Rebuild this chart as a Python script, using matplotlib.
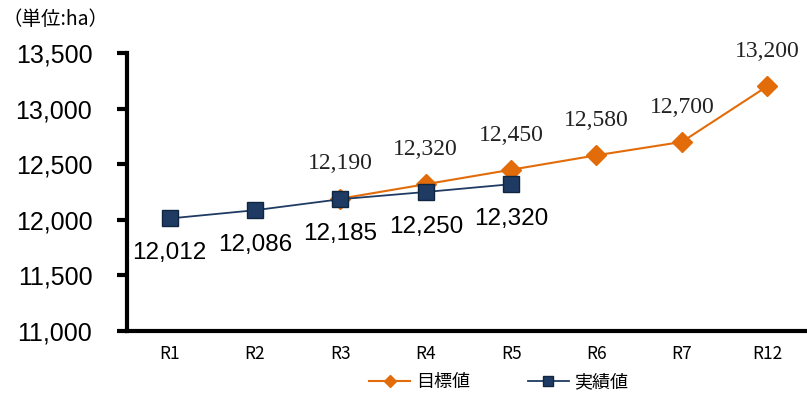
import matplotlib
matplotlib.use("Agg")
import matplotlib.pyplot as plt
from matplotlib.ticker import FuncFormatter

# 年度ごとの面積（単位: ha）
years = ["R1", "R2", "R3", "R4", "R5", "R6", "R7", "R12"]
target_years = ["R3", "R4", "R5", "R6", "R7", "R12"]
target_vals = [12190, 12320, 12450, 12580, 12700, 13200]
actual_years = ["R1", "R2", "R3", "R4", "R5"]
actual_vals = [12012, 12086, 12185, 12250, 12320]

orange = "#E36C0A"
navy = "#1F3B63"

fig = plt.figure(figsize=(8.07, 3.93), dpi=100)
ax = fig.add_axes([0.1574, 0.1578, 0.843, 0.7074])

tx = [years.index(y) for y in target_years]
axx = [years.index(y) for y in actual_years]

ax.plot(tx, target_vals, color=orange, lw=1.5, marker="D", ms=10.5,
        markeredgecolor=orange, label="目標値", zorder=3)
ax.plot(axx, actual_vals, color=navy, lw=1.3, marker="s", ms=12,
        markeredgecolor="#0F2540", label="実績値", zorder=4)

for x, v in zip(tx, target_vals):
    ax.annotate(f"{v:,}", (x, v), xytext=(0, 25), textcoords="offset points",
                ha="center", va="center", fontsize=17,
                family=["Liberation Serif", "DejaVu Serif"], color="#222222")
for x, v in zip(axx, actual_vals):
    ax.annotate(f"{v:,}", (x, v), xytext=(0, -25), textcoords="offset points",
                ha="center", va="center", fontsize=17.5,
                family=["Liberation Sans", "DejaVu Sans"], color="black")

ax.set_xlim(-0.5, 7.47)
ax.set_ylim(11000, 13500)
ax.set_yticks(range(11000, 13501, 500))
ax.yaxis.set_major_formatter(FuncFormatter(lambda v, p: f"{int(v):,}"))
ax.set_xticks(range(len(years)))
ax.set_xticklabels(years, family=["Noto Sans CJK JP"], fontsize=12.5)
for lab in ax.get_yticklabels():
    lab.set_family(["Liberation Sans", "DejaVu Sans"])
    lab.set_fontsize(18)

ax.spines["top"].set_visible(False)
ax.spines["right"].set_visible(False)
ax.spines["left"].set_linewidth(3)
ax.spines["bottom"].set_linewidth(3)
ax.tick_params(axis="y", length=7, width=3, pad=18)
ax.tick_params(axis="x", length=0, pad=10)

fig.text(0.003, 0.95, "（単位:ha）", fontsize=14,
         family=["Noto Sans CJK JP", "DejaVu Sans"], va="center")

fig.legend(loc="center", bbox_to_anchor=(0.618, 0.027), ncol=2, frameon=False,
           prop={"family": ["Noto Sans CJK JP", "DejaVu Sans"], "size": 13},
           handlelength=2.3, columnspacing=3.2, markerscale=0.55, handletextpad=0.3)

fig.savefig("out.png", dpi=100)
